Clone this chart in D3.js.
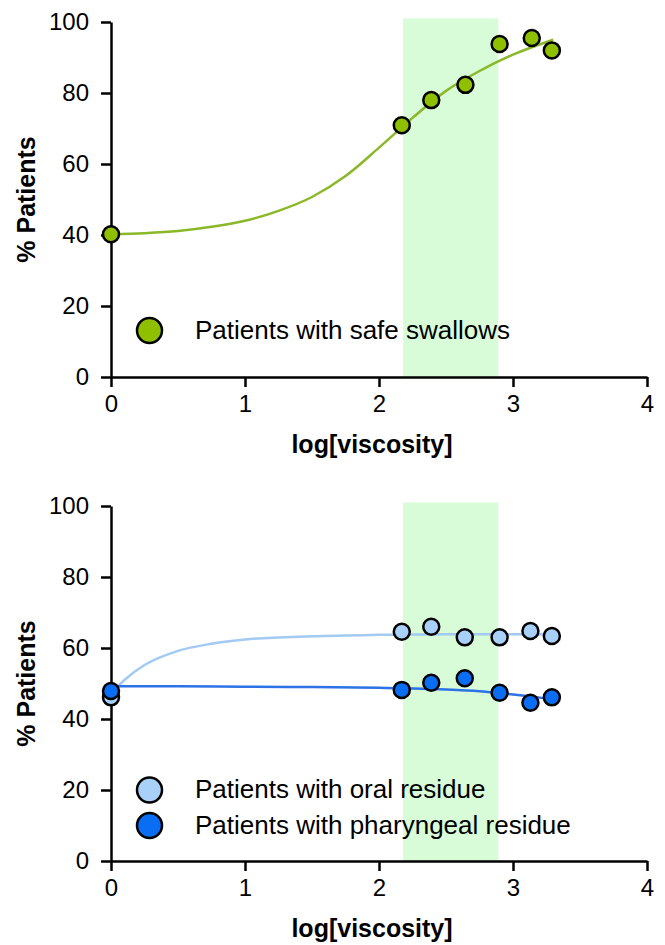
<!DOCTYPE html>
<html>
<head>
<meta charset="utf-8">
<script src="https://cdn.jsdelivr.net/npm/d3@7"></script>
<style>
  body { margin: 0; background: #fff; }
  svg { font-family: "Liberation Sans", Arial, sans-serif; }
</style>
</head>
<body>
<div id="chart-container"></div>
<script>
// tick values and shaded viscosity band
const xTicks = [0, 1, 2, 3, 4];
const yTicks = [0, 20, 40, 60, 80, 100];
const bandRange = [2.18, 2.89];
const bandTop = 101;

// top panel: safe swallows
const safeX = [0, 2.17, 2.39, 2.645, 2.90, 3.14, 3.29];
const safeY = [40.2, 70.9, 78.0, 82.3, 93.8, 95.5, 92.0];
const safeFitX = [0, 0.25, 0.5, 0.75, 1, 1.25, 1.5, 1.75, 2, 2.25, 2.5, 2.75, 3, 3.3];
const safeFitY = [40.2, 40.5, 41.1, 42.3, 44.0, 46.8, 50.7, 56.6, 64.6, 73.0, 80.6, 86.2, 90.8, 95.0];

// bottom panel: oral residue
const oralX = [0, 2.17, 2.39, 2.64, 2.90, 3.13, 3.29];
const oralY = [46.1, 64.6, 66.0, 63.0, 63.0, 64.8, 63.4];
const oralFitX = [0, 0.1, 0.25, 0.5, 0.75, 1, 1.5, 2, 2.5, 3, 3.3];
const oralFitY = [47.2, 51.0, 55.2, 59.2, 61.2, 62.4, 63.3, 63.7, 63.9, 63.9, 63.9];

// bottom panel: pharyngeal residue
const pharX = [0, 2.17, 2.39, 2.64, 2.90, 3.13, 3.29];
const pharY = [47.9, 48.2, 50.2, 51.5, 47.4, 44.6, 46.1];
const pharFitX = [0, 0.5, 1, 1.5, 2, 2.25, 2.5, 2.75, 2.9, 3.15, 3.3];
const pharFitY = [49.2, 49.2, 49.1, 49.0, 48.8, 48.6, 48.3, 47.8, 47.3, 46.3, 45.5];

const W = 665, H = 945;
const font = '"Liberation Sans", Arial, sans-serif';

const svg = d3.select("#chart-container")
  .append("svg")
  .attr("width", W)
  .attr("height", H);

const x = d3.scaleLinear().domain([0, 4]).range([111, 647]);

function zip(xs, ys) {
  return xs.map((v, i) => ({x: v, y: ys[i]}));
}

function panel(y0, y100, series, legend) {
  const y = d3.scaleLinear().domain([0, 100]).range([y0, y100]);
  const g = svg.append("g");

  // shaded band
  g.append("rect")
    .attr("x", x(bandRange[0]))
    .attr("width", x(bandRange[1]) - x(bandRange[0]))
    .attr("y", y(bandTop))
    .attr("height", y(0) - y(bandTop))
    .attr("fill", "#d8fbd8");

  // fitted curves
  const line = d3.line()
    .x(d => x(d.x))
    .y(d => y(d.y))
    .curve(d3.curveMonotoneX);

  series.forEach(s => {
    g.append("path")
      .datum(zip(s.fitX, s.fitY))
      .attr("fill", "none")
      .attr("stroke", s.line)
      .attr("stroke-width", 2.5)
      .attr("d", line);
  });

  // axes
  const xAxis = g.append("g")
    .attr("transform", `translate(0,${y0})`)
    .call(d3.axisBottom(x).tickValues(xTicks).tickSize(10).tickSizeOuter(0).tickPadding(8).tickFormat(d3.format("d")));
  const yAxis = g.append("g")
    .attr("transform", `translate(${x(0)},0)`)
    .call(d3.axisLeft(y).tickValues(yTicks).tickSize(10).tickSizeOuter(0).tickPadding(12));

  [xAxis, yAxis].forEach(a => {
    a.attr("font-family", font).attr("font-size", 24);
    a.selectAll("path, line").attr("stroke", "#000").attr("stroke-width", 2.5);
    a.selectAll("text").attr("fill", "#000");
  });

  // points
  series.forEach(s => {
    g.append("g")
      .selectAll("circle")
      .data(zip(s.xs, s.ys))
      .join("circle")
      .attr("cx", d => x(d.x))
      .attr("cy", d => y(d.y))
      .attr("r", 8)
      .attr("fill", s.fill)
      .attr("stroke", "#000")
      .attr("stroke-width", 2.5);
  });

  // axis titles
  g.append("text")
    .attr("transform", `translate(35,${(y0 + y100) / 2}) rotate(-90)`)
    .attr("text-anchor", "middle")
    .attr("font-size", 25)
    .attr("font-weight", "bold")
    .text("% Patients");

  g.append("text")
    .attr("x", 372)
    .attr("y", y0 + 76)
    .attr("text-anchor", "middle")
    .attr("font-size", 25)
    .attr("font-weight", "bold")
    .text("log[viscosity]");

  // legend
  legend.forEach(l => {
    g.append("circle")
      .attr("cx", 149.5)
      .attr("cy", l.cy)
      .attr("r", 12.5)
      .attr("fill", l.fill)
      .attr("stroke", "#000")
      .attr("stroke-width", 2.5);
    g.append("text")
      .attr("x", 195)
      .attr("y", l.cy + 8)
      .attr("font-size", 26)
      .text(l.label);
  });
}

panel(377, 22,
  [{xs: safeX, ys: safeY, fitX: safeFitX, fitY: safeFitY, fill: "#8fc000", line: "#8ab828"}],
  [{label: "Patients with safe swallows", fill: "#8fc000", cy: 330.5}]);

panel(861, 506,
  [{xs: oralX, ys: oralY, fitX: oralFitX, fitY: oralFitY, fill: "#a8d0f8", line: "#a2caf3"},
   {xs: pharX, ys: pharY, fitX: pharFitX, fitY: pharFitY, fill: "#0a6ef5", line: "#2d72e6"}],
  [{label: "Patients with oral residue", fill: "#a8d0f8", cy: 790},
   {label: "Patients with pharyngeal residue", fill: "#0a6ef5", cy: 825.5}]);
</script>
</body>
</html>
